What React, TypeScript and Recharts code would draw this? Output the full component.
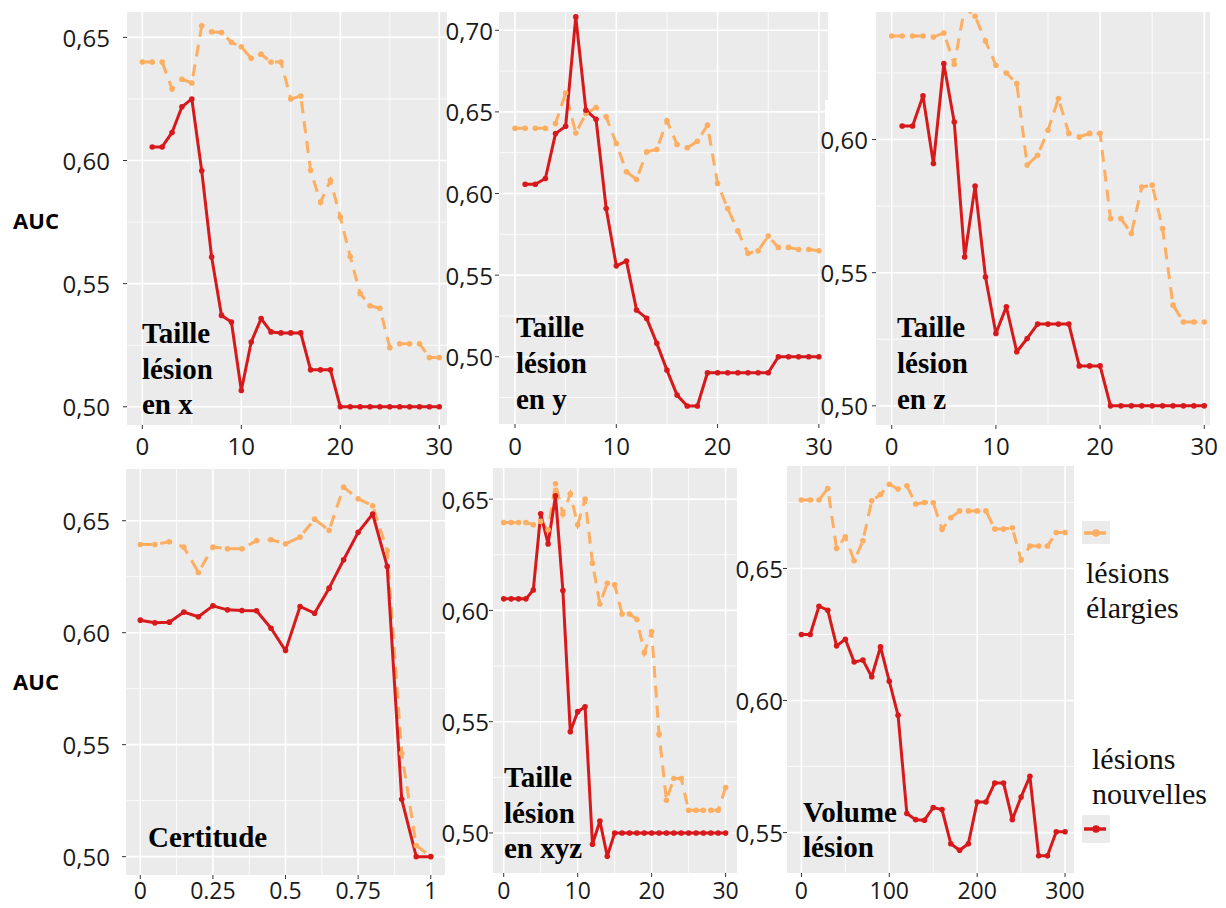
import { CartesianGrid, Line, LineChart, XAxis, YAxis } from "recharts";

const ORANGE = "#FDAE61";
const RED = "#D7191C";
const PANEL_BG = "#EBEBEB";
const INK = "#1a1a1a";
const SANS = "'Open Sans', sans-serif";
const SERIF = "'Liberation Serif', 'Times New Roman', serif";

// x values
const steps30 = [0, 1, 2, 3, 4, 5, 6, 7, 8, 9, 10, 11, 12, 13, 14, 15, 16, 17, 18, 19, 20, 21, 22, 23, 24, 25, 26, 27, 28, 29, 30];
const certitudeSteps = [0, 0.05, 0.1, 0.15, 0.2, 0.25, 0.3, 0.35, 0.4, 0.45, 0.5, 0.55, 0.6, 0.65, 0.7, 0.75, 0.8, 0.85, 0.9, 0.95, 1];
const volumeSteps = [0, 10, 20, 30, 40, 50, 60, 70, 80, 90, 100, 110, 120, 130, 140, 150, 160, 170, 180, 190, 200, 210, 220, 230, 240, 250, 260, 270, 280, 290, 300];

// AUC, lésions élargies (orange) / lésions nouvelles (red)
const elargiesX = [0.64, 0.64, 0.64, 0.629, 0.633, 0.6315, 0.6547, 0.6523, 0.652, 0.648, 0.6462, 0.6415, 0.6432, 0.64, 0.64, 0.625, 0.6262, 0.596, 0.583, 0.592, 0.577, 0.561, 0.546, 0.541, 0.54, 0.524, 0.5256, 0.5256, 0.5256, 0.52, 0.52];
const nouvellesX = [null, 0.6055, 0.6055, 0.6114, 0.6218, 0.625, 0.5958, 0.5608, 0.5371, 0.5344, 0.5066, 0.5263, 0.5358, 0.5304, 0.53, 0.53, 0.53, 0.515, 0.515, 0.515, 0.5, 0.5, 0.5, 0.5, 0.5, 0.5, 0.5, 0.5, 0.5, 0.5, 0.5];

const elargiesY = [0.64, 0.64, 0.64, 0.64, 0.6429, 0.6616, 0.6371, 0.649, 0.6527, 0.647, 0.6306, 0.6133, 0.6086, 0.6255, 0.627, 0.6445, 0.63, 0.628, 0.632, 0.6418, 0.6061, 0.5908, 0.5771, 0.5633, 0.5649, 0.5739, 0.567, 0.567, 0.5657, 0.5657, 0.5649];
const nouvellesY = [null, 0.6057, 0.6057, 0.6092, 0.6367, 0.6412, 0.7082, 0.651, 0.6455, 0.5908, 0.5557, 0.5586, 0.5286, 0.5235, 0.5082, 0.4918, 0.4765, 0.4698, 0.4698, 0.4902, 0.4902, 0.4902, 0.4902, 0.4902, 0.4902, 0.4902, 0.5, 0.5, 0.5, 0.5, 0.5];

const elargiesZ = [0.6389, 0.6389, 0.6389, 0.6389, 0.6385, 0.64, 0.6283, 0.6495, 0.6463, 0.637, 0.6279, 0.625, 0.621, 0.5904, 0.5941, 0.6035, 0.6154, 0.6023, 0.601, 0.6023, 0.6023, 0.5703, 0.5703, 0.5647, 0.5822, 0.5829, 0.5666, 0.5378, 0.5315, 0.5315, 0.5315];
const nouvellesZ = [null, 0.6051, 0.6051, 0.6164, 0.591, 0.6285, 0.6066, 0.5559, 0.5825, 0.5484, 0.5272, 0.5372, 0.5203, 0.5253, 0.5307, 0.5307, 0.5307, 0.5307, 0.515, 0.515, 0.515, 0.5, 0.5, 0.5, 0.5, 0.5, 0.5, 0.5, 0.5, 0.5, 0.5];

const elargiesCert = [0.6394, 0.6394, 0.6406, 0.6382, 0.6269, 0.6382, 0.6375, 0.6375, 0.6411, 0.6415, 0.6397, 0.6427, 0.6507, 0.6457, 0.665, 0.6598, 0.6567, 0.6367, 0.5461, 0.505, 0.5];
const nouvellesCert = [0.6056, 0.6044, 0.6047, 0.6092, 0.6071, 0.612, 0.6102, 0.6099, 0.6098, 0.602, 0.592, 0.6117, 0.6087, 0.6199, 0.6326, 0.6448, 0.653, 0.6296, 0.5256, 0.5, 0.5];

const elargiesXYZ = [0.6395, 0.6395, 0.6395, 0.6395, 0.6385, 0.64, 0.6362, 0.6569, 0.6433, 0.6524, 0.6385, 0.65, 0.6212, 0.6029, 0.6122, 0.6115, 0.5984, 0.5984, 0.596, 0.581, 0.5905, 0.5444, 0.5147, 0.5245, 0.5245, 0.5102, 0.5102, 0.5102, 0.5102, 0.5102, 0.5204];
const nouvellesXYZ = [0.6052, 0.6052, 0.6052, 0.6052, 0.6092, 0.6434, 0.6299, 0.6515, 0.6089, 0.5455, 0.5545, 0.5567, 0.4949, 0.5054, 0.4895, 0.5, 0.5, 0.5, 0.5, 0.5, 0.5, 0.5, 0.5, 0.5, 0.5, 0.5, 0.5, 0.5, 0.5, 0.5, 0.5];

const elargiesVol = [0.6759, 0.6759, 0.6759, 0.6803, 0.6576, 0.662, 0.6529, 0.6605, 0.6756, 0.678, 0.6819, 0.6801, 0.6813, 0.6744, 0.675, 0.6749, 0.6648, 0.6692, 0.6718, 0.6718, 0.6718, 0.6718, 0.6649, 0.6649, 0.6654, 0.6532, 0.6585, 0.6585, 0.6585, 0.6636, 0.6636];
const nouvellesVol = [0.625, 0.625, 0.6357, 0.6342, 0.6207, 0.6232, 0.6146, 0.6153, 0.609, 0.6203, 0.6073, 0.5944, 0.5572, 0.5549, 0.5547, 0.5595, 0.5587, 0.5458, 0.5433, 0.5458, 0.5616, 0.5616, 0.5688, 0.5688, 0.5549, 0.5635, 0.5713, 0.5412, 0.5412, 0.5503, 0.5503];

// tick values
const ticks30 = [0, 10, 20, 30];
const minor30 = [5, 15, 25];
const ticksCert = [0, 0.25, 0.5, 0.75, 1];
const minorCert = [0.125, 0.375, 0.625, 0.875];
const ticksVol = [0, 100, 200, 300];
const minorVol = [50, 150, 250];
const aucMajor = [0.5, 0.55, 0.6, 0.65];
const aucMinor = [0.525, 0.575, 0.625];
const aucMajorY = [0.5, 0.55, 0.6, 0.65, 0.7];
const aucMinorY = [0.475, 0.525, 0.575, 0.625, 0.675];
const aucMajorZ = [0.5, 0.55, 0.6];
const aucMajorVol = [0.55, 0.6, 0.65];
const aucMinorVol = [0.575, 0.625, 0.675];

const AXW = 80;
const PADR = 24;
const TICK_FONT = 24;

const fmtAuc = (v: number) => v.toFixed(2).replace(".", ",");

type PanelProps = {
  left: number;
  top: number;
  right: number;
  bottom: number;
  xDomain: [number, number];
  yDomain: [number, number];
  xMajor: number[];
  xMinor: number[];
  yMajor: number[];
  yMinor: number[];
  xs: number[];
  elargies: number[];
  nouvelles: (number | null)[];
  yGap: number;
  xDy: number;
  axh: number;
  xFont?: number;
};

function Panel(p: PanelProps) {
  const w = p.right - p.left;
  const h = p.bottom - p.top;
  const data = p.xs.map((x, i) => ({ x, elargies: p.elargies[i], nouvelles: p.nouvelles[i] }));

  return (
    <div style={{ position: "absolute", left: p.left - AXW, top: p.top }}>
      <LineChart width={w + AXW + PADR} height={h + p.axh} data={data} margin={{ top: 0, right: PADR, bottom: 0, left: 0 }}>
        <CartesianGrid fill={PANEL_BG} stroke="#fff" strokeWidth={0.8} horizontalValues={p.yMinor} verticalValues={p.xMinor} />
        <CartesianGrid stroke="#fff" strokeWidth={1.6} horizontalValues={p.yMajor} verticalValues={p.xMajor} />
        <XAxis
          type="number"
          dataKey="x"
          domain={p.xDomain}
          ticks={p.xMajor}
          interval={0}
          allowDataOverflow
          axisLine={false}
          tickLine={{ stroke: "#333" }}
          tickSize={4}
          tickMargin={0}
          height={p.axh}
          tick={(t: any) => (
            <text x={t.x} y={t.y + p.xDy} textAnchor="middle" dominantBaseline="central" fontFamily={SANS} fontSize={p.xFont ?? TICK_FONT} fill={INK}>
              {String(t.payload.value)}
            </text>
          )}
        />
        <YAxis
          type="number"
          domain={p.yDomain}
          ticks={p.yMajor}
          interval={0}
          allowDataOverflow
          axisLine={false}
          tickLine={{ stroke: "#333" }}
          tickSize={4}
          tickMargin={0}
          width={AXW}
          tick={(t: any) => (
            <text x={t.x - p.yGap} y={t.y} textAnchor="end" dominantBaseline="central" fontFamily={SANS} fontSize={TICK_FONT} fill={INK}>
              {fmtAuc(t.payload.value)}
            </text>
          )}
        />
        <Line
          dataKey="elargies"
          stroke={ORANGE}
          strokeWidth={3}
          strokeDasharray="12 8"
          dot={{ r: 2.8, fill: ORANGE, strokeWidth: 0 }}
          isAnimationActive={false}
        />
        <Line
          dataKey="nouvelles"
          stroke={RED}
          strokeWidth={3}
          strokeLinejoin="round"
          dot={{ r: 2.8, fill: RED, strokeWidth: 0 }}
          isAnimationActive={false}
        />
      </LineChart>
    </div>
  );
}

const boldLabel = { fontFamily: SERIF, fontWeight: 700, fontSize: 29, fill: "#000" };
const legendText = { fontFamily: SERIF, fontSize: 30, fill: "#111" };

export default function App() {
  return (
    <div style={{ position: "absolute", left: 0, top: 0, width: 1226, height: 908, overflow: "hidden", background: "#fff" }}>
      <Panel left={127} top={12} right={447} bottom={425} xDomain={[-1.55, 30.78]} yDomain={[0.4926, 0.6603]}
        xMajor={ticks30} xMinor={minor30} yMajor={aucMajor} yMinor={aucMinor}
        xs={steps30} elargies={elargiesX} nouvelles={nouvellesX} yGap={13} xDy={16} axh={40} />
      <Panel left={499} top={12} right={828} bottom={424} xDomain={[-1.58, 30.9]} yDomain={[0.4588, 0.7112]}
        xMajor={ticks30} xMinor={minor30} yMajor={aucMajorY} yMinor={aucMinorY}
        xs={steps30} elargies={elargiesY} nouvelles={nouvellesY} yGap={2} xDy={17} axh={40} />
      <div style={{ position: "absolute", left: 825, top: 100, width: 51, height: 340, background: "#fff" }} />
      <Panel left={876} top={12} right={1210} bottom={425} xDomain={[-1.51, 30.55]} yDomain={[0.4928, 0.6479]}
        xMajor={ticks30} xMinor={minor30} yMajor={aucMajorZ} yMinor={aucMinor}
        xs={steps30} elargies={elargiesZ} nouvelles={nouvellesZ} yGap={4} xDy={16} axh={40} />

      <CertitudePanel />
      <Panel left={493} top={468} right={737} bottom={873} xDomain={[-1.45, 31.54]} yDomain={[0.482, 0.664]}
        xMajor={ticks30} xMinor={minor30} yMajor={aucMajor} yMinor={aucMinor}
        xs={steps30} elargies={elargiesXYZ} nouvelles={nouvellesXYZ} yGap={0} xDy={13} axh={35} xFont={23} />
      <Panel left={787} top={466} right={1074} bottom={873} xDomain={[-16.4, 310.2]} yDomain={[0.5347, 0.6888]}
        xMajor={ticksVol} xMinor={minorVol} yMajor={aucMajorVol} yMinor={aucMinorVol}
        xs={volumeSteps} elargies={elargiesVol} nouvelles={nouvellesVol} yGap={0} xDy={13} axh={35} xFont={23} />

      <svg width={1226} height={908} style={{ position: "absolute", left: 0, top: 0, pointerEvents: "none" }}>
        <text x={36} y={220} textAnchor="middle" dominantBaseline="central" fontFamily={SANS} fontWeight={700} fontSize={22} fill="#000">AUC</text>
        <text x={36} y={681} textAnchor="middle" dominantBaseline="central" fontFamily={SANS} fontWeight={700} fontSize={22} fill="#000">AUC</text>

        <text x={142} y={343} {...boldLabel}>Taille</text>
        <text x={142} y={379} {...boldLabel}>lésion</text>
        <text x={142} y={414} {...boldLabel}>en x</text>

        <text x={516} y={337} {...boldLabel}>Taille</text>
        <text x={516} y={373} {...boldLabel}>lésion</text>
        <text x={516} y={409} {...boldLabel}>en y</text>

        <text x={897} y={337} {...boldLabel}>Taille</text>
        <text x={897} y={373} {...boldLabel}>lésion</text>
        <text x={897} y={409} {...boldLabel}>en z</text>

        <text x={148} y={847} {...boldLabel}>Certitude</text>

        <text x={504} y={787} {...boldLabel}>Taille</text>
        <text x={504} y={823} {...boldLabel}>lésion</text>
        <text x={504} y={858} {...boldLabel}>en xyz</text>

        <text x={803} y={822} {...boldLabel}>Volume</text>
        <text x={803} y={857} {...boldLabel}>lésion</text>

        <rect x={1082} y={521} width={28} height={23} fill={PANEL_BG} />
        <line x1={1084} x2={1106} y1={533} y2={533} stroke={ORANGE} strokeWidth={3.5} />
        <circle cx={1096} cy={533} r={3.8} fill={ORANGE} />
        <text x={1086} y={583} {...legendText}>lésions</text>
        <text x={1086} y={618} {...legendText}>élargies</text>

        <text x={1092} y={769} {...legendText}>lésions</text>
        <text x={1092} y={804} {...legendText}>nouvelles</text>
        <rect x={1082} y={815} width={28} height={28} fill={PANEL_BG} />
        <line x1={1084} x2={1106} y1={829} y2={829} stroke={RED} strokeWidth={3.5} />
        <circle cx={1096} cy={829} r={3.8} fill={RED} />
      </svg>
    </div>
  );
}

function CertitudePanel() {
  const left = 126;
  const top = 469;
  const w = 445 - left;
  const h = 875 - top;
  const data = certitudeSteps.map((x, i) => ({ x, elargies: elargiesCert[i], nouvelles: nouvellesCert[i] }));
  return (
    <div style={{ position: "absolute", left: left - AXW, top }}>
      <LineChart width={w + AXW + PADR} height={h + 33} data={data} margin={{ top: 0, right: PADR, bottom: 0, left: 0 }}>
        <CartesianGrid fill={PANEL_BG} stroke="#fff" strokeWidth={0.8} horizontalValues={aucMinor} verticalValues={minorCert} />
        <CartesianGrid stroke="#fff" strokeWidth={1.6} horizontalValues={aucMajor} verticalValues={ticksCert} />
        <XAxis
          type="number"
          dataKey="x"
          domain={[-0.0492, 1.049]}
          ticks={ticksCert}
          interval={0}
          allowDataOverflow
          axisLine={false}
          tickLine={{ stroke: "#333" }}
          tickSize={4}
          tickMargin={0}
          height={33}
          tick={(t: any) => (
            <text x={t.x} y={t.y + 11} textAnchor="middle" dominantBaseline="central" fontFamily={SANS} fontSize={23} fill={INK}>
              {String(t.payload.value)}
            </text>
          )}
        />
        <YAxis
          type="number"
          domain={[0.4918, 0.6731]}
          ticks={aucMajor}
          interval={0}
          allowDataOverflow
          axisLine={false}
          tickLine={{ stroke: "#333" }}
          tickSize={4}
          tickMargin={0}
          width={AXW}
          tick={(t: any) => (
            <text x={t.x - 12} y={t.y} textAnchor="end" dominantBaseline="central" fontFamily={SANS} fontSize={TICK_FONT} fill={INK}>
              {fmtAuc(t.payload.value)}
            </text>
          )}
        />
        <Line dataKey="elargies" stroke={ORANGE} strokeWidth={3} strokeDasharray="12 8"
          dot={{ r: 2.8, fill: ORANGE, strokeWidth: 0 }} isAnimationActive={false} />
        <Line dataKey="nouvelles" stroke={RED} strokeWidth={3} strokeLinejoin="round"
          dot={{ r: 2.8, fill: RED, strokeWidth: 0 }} isAnimationActive={false} />
      </LineChart>
    </div>
  );
}
